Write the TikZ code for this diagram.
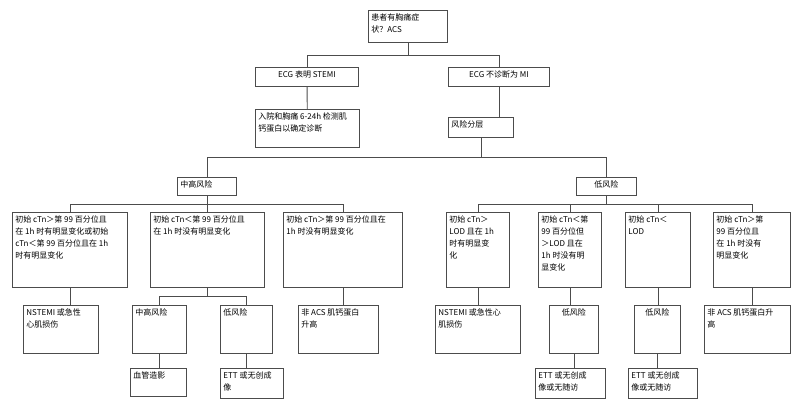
\documentclass[tikz,border=0pt]{standalone}
\usepackage{fontspec}
\setmainfont{Noto Sans CJK SC}
\XeTeXlinebreaklocale "zh"
\XeTeXlinebreakskip=0pt plus 1pt
\tikzset{
  box/.style={draw=black!70, line width=0.9pt, anchor=north west, inner sep=3pt},
  link/.style={draw=black!70, line width=0.9pt}
}
% name, x, y, width, height, text
\newcommand\bx[6]{\node[box] (#1) at (#2,#3)
  {\parbox[t][\dimexpr#5pt-6pt\relax][t]{\dimexpr#4pt-6pt\relax}{\raggedright #6}};}
% parent, child, y of bus
\newcommand\branch[3]{\draw[link] (#1.south) -- (#1.south |- 0,#3) -| (#2.north);}
\begin{document}
\begin{tikzpicture}[x=1pt, y=-1pt, font=\fontsize{8}{12}\selectfont]
\useasboundingbox (0,0) rectangle (800,411);

% top levels
\bx{acs}{368}{10}{79}{32}{患者有胸痛症\\状？ACS}
\bx{stemi}{255}{67}{103}{19}{\centering ECG 表明 STEMI}
\bx{nomi}{448}{67}{101}{19}{\centering ECG 不诊断为 MI}
\bx{admit}{255}{109}{104}{38}{入院和胸痛 6-24h 检测肌\\钙蛋白以确定诊断}
\bx{strat}{448}{117}{65}{20}{风险分层}
\bx{mid}{177}{177}{59}{18}{中高风险}
\bx{low}{576}{177}{60}{18}{\centering 低风险}

% third level
\bx{ma}{12}{212}{115}{75}{初始 cTn＞第 99 百分位且\\在 1h 时有明显变化或初始\\cTn＜第 99 百分位且在 1h\\时有明显变化}
\bx{mb}{150}{212}{114}{75}{初始 cTn＜第 99 百分位且\\在 1h 时没有明显变化}
\bx{mc}{283}{212}{119}{75}{初始 cTn＞第 99 百分位且在\\1h 时没有明显变化}
\bx{la}{446}{212}{63}{75}{初始 cTn＞\\LOD 且在 1h\\时有明显变\\化}
\bx{lb}{538}{212}{63}{75}{初始 cTn＜第\\99 百分位但\\＞LOD 且在\\1h 时没有明\\显变化}
\bx{lc}{625}{212}{65}{75}{初始 cTn＜\\LOD}
\bx{ld}{713}{212}{77}{75}{初始 cTn＞第\\99 百分位且\\在 1h 时没有\\明显变化}

% fourth level
\bx{ma1}{23}{305}{75}{48}{NSTEMI 或急性\\心肌损伤}
\bx{mb1}{132}{305}{54}{48}{中高风险}
\bx{mb2}{220}{305}{52}{48}{低风险}
\bx{mc1}{298}{305}{80}{48}{非 ACS 肌钙蛋白\\升高}
\bx{la1}{435}{305}{85}{48}{NSTEMI 或急性心\\肌损伤}
\bx{lb1}{549}{305}{49}{48}{\centering 低风险}
\bx{lc1}{634}{305}{46}{48}{\centering 低风险}
\bx{ld1}{704}{305}{86}{48}{非 ACS 肌钙蛋白升\\高}

% fifth level
\bx{mb11}{130}{368}{56}{28}{血管造影}
\bx{mb21}{220}{368}{63}{30}{ETT 或无创成\\像}
\bx{lb11}{535}{368}{70}{30}{ETT 或无创成\\像或无随访}
\bx{lc11}{628}{368}{69}{30}{ETT 或无创成\\像或无随访}

% connectors
\branch{acs}{stemi}{55}
\branch{acs}{nomi}{55}
\draw[link] (stemi) -- (admit);
\draw[link] (nomi.south) -- (nomi.south |- strat.north);
\branch{strat}{mid}{157}
\branch{strat}{low}{157}
\foreach \c in {ma,mb,mc} {\branch{mid}{\c}{204}}
\foreach \c in {la,lb,lc,ld} {\branch{low}{\c}{204}}
\draw[link] (ma.south) -- (ma.south |- ma1.north);
\branch{mb}{mb1}{296}
\branch{mb}{mb2}{296}
\draw[link] (mc.south) -- (mc.south |- mc1.north);
\draw[link] (la.south) -- (la.south |- la1.north);
\draw[link] (lb.south) -- (lb.south |- lb1.north);
\draw[link] (lc.south) -- (lc.south |- lc1.north);
\draw[link] (ld.south) -- (ld.south |- ld1.north);
\draw[link] (mb1.south) -- (mb1.south |- mb11.north);
\draw[link] (mb2.south) -- (mb2.south |- mb21.north);
\draw[link] (lb1.south) -- (lb1.south |- lb11.north);
\draw[link] (lc1.south) -- (lc1.south |- lc11.north);
\end{tikzpicture}
\end{document}
